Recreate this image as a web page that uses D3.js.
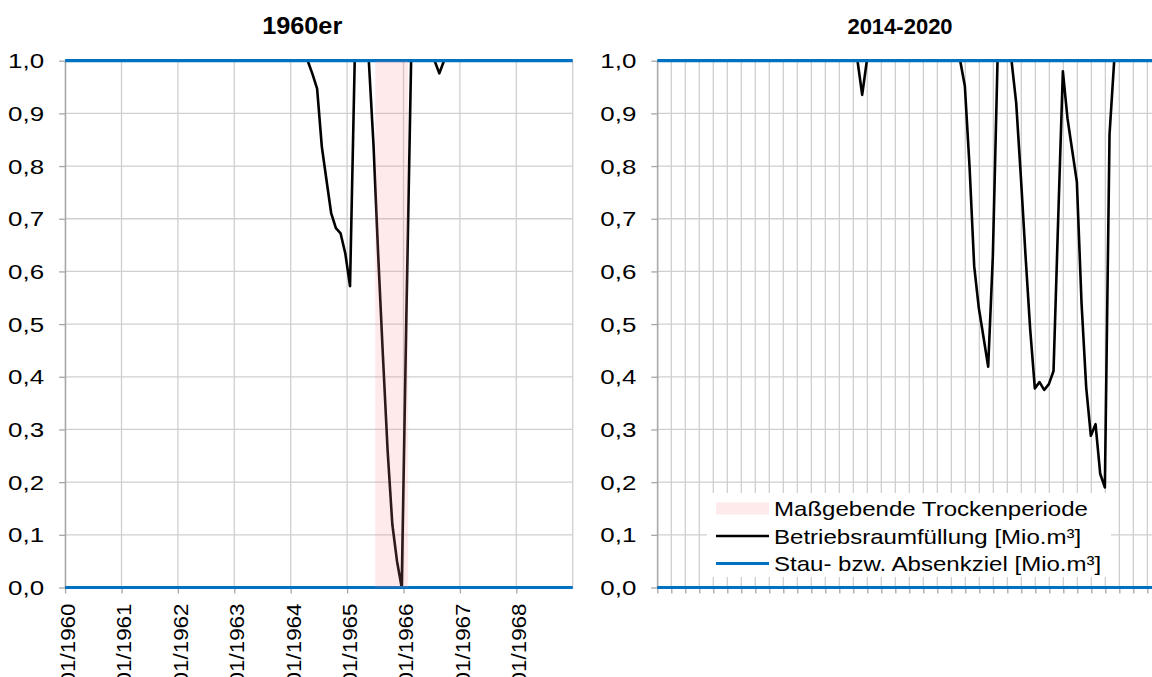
<!DOCTYPE html>
<html><head><meta charset="utf-8">
<script src="https://cdn.jsdelivr.net/npm/d3@7"></script>
<style>
body{margin:0;background:#fff}
svg{display:block}
text{font-family:"Liberation Sans",Arial,sans-serif;fill:#000}
</style>
</head><body>
<svg id="c" width="1152" height="677"></svg>
<script>
// ---------------- data ----------------
const leftTitle = "1960er";
const rightTitle = "2014-2020";
const leftTickLabels = ["01/1960","01/1961","01/1962","01/1963","01/1964","01/1965","01/1966","01/1967","01/1968"];
// monthly Betriebsraumfüllung, Jan 1960 .. Dec 1968
const leftValues = [
  1,1,1,1,1,1,1,1,1,1,1,1,                              // 1960
  1,1,1,1,1,1,1,1,1,1,1,1,                              // 1961
  1,1,1,1,1,1,1,1,1,1,1,1,                              // 1962
  1,1,1,1,1,1,1,1,1,1,1,1,                              // 1963
  1,1,1,1,0.975,0.947,0.837,0.773,0.71,0.682,0.672,0.634, // 1964
  0.572,1,1,1,1,0.84,0.63,0.44,0.26,0.12,0.05,0,        // 1965
  0.52,1,1,1,1,1,1,0.976,1,1,1,1,                       // 1966
  1,1,1,1,1,1,1,1,1,1,1,1,                              // 1967
  1,1,1,1,1,1,1,1,1,1,1,1                               // 1968
];
// monthly Betriebsraumfüllung, right panel (from axis start)
const rightValues = [
  1,1,1,1,1,1,1,1,1,1,1,1,
  1,1,1,1,1,1,1,1,1,1,1,1,
  1,1,1,1,1,1,1,1,1,1,1,1,
  1,1,1,1,1,1,1,0.935,1,1,1,1,
  1,1,1,1,1,1,1,1,1,1,1,1,
  1,1,1,1,1,0.952,0.80,0.61,0.53,0.475,0.419,0.63,
  1,1,1,1,0.92,0.78,0.63,0.49,0.378,0.39,0.375,0.386,
  0.411,0.70,0.98,0.89,0.83,0.77,0.54,0.38,0.288,0.31,0.216,0.19,
  0.86,1,1,1,1,1,1,1,1,1
];
const targetLevels = [1.0, 0.0];           // Stau- bzw. Absenkziel
const shadeMonths = [66, 73];              // 07/1965 .. 02/1966 (months since 01/1960)
const yTicks = [0,0.1,0.2,0.3,0.4,0.5,0.6,0.7,0.8,0.9,1.0];
const legendLabels = ["Maßgebende Trockenperiode","Betriebsraumfüllung [Mio.m³]","Stau- bzw. Absenkziel [Mio.m³]"];

// ---------------- style ----------------
const BLUE = "#0070c0", GRID = "#cfcfcf", AXIS = "#a6a6a6";
const SHADE = "rgb(250,140,140)", SHADE_OP = 0.18;
const fmt = d3.formatLocale({decimal:",",thousands:".",grouping:[3],currency:["","€"]}).format(".1f");

const svg = d3.select("#c");
const y = d3.scaleLinear().domain([0,1]).range([587.5, 60.7]);

function panel(x, xMin, gridVals, gxRight, tickVals, tickFmt, values, offset, title, titleX, titleStretch) {
  const g = svg.append("g");
  // grid
  g.selectAll(".vg").data(gridVals).join("line")
    .attr("x1", d=>x(d)).attr("x2", d=>x(d)).attr("y1", y(1)).attr("y2", y(0))
    .attr("stroke", GRID).attr("stroke-width", 1.3);
  g.selectAll(".hg").data(yTicks).join("line")
    .attr("x1", x(xMin)).attr("x2", gxRight).attr("y1", d=>y(d)).attr("y2", d=>y(d))
    .attr("stroke", GRID).attr("stroke-width", 1.3);
  // y axis
  const ya = g.append("g").attr("transform", `translate(${x(xMin)},0)`)
    .call(d3.axisLeft(y).tickValues(yTicks).tickFormat(fmt).tickSize(6).tickSizeOuter(0));
  ya.select(".domain").attr("stroke", AXIS).attr("stroke-width", 1.3);
  ya.selectAll(".tick line").attr("stroke", AXIS).attr("stroke-width", 1.3);
  ya.selectAll("text").style("font-size","19.5px").attr("fill","#000").attr("font-family", null)
    .attr("x",0).attr("dy","0.36em").attr("transform","translate(-21,0) scale(1.33,1)");
  // x axis
  const xa = g.append("g").attr("transform", `translate(0,${y(0)})`)
    .call(d3.axisBottom(x).tickValues(tickVals).tickFormat(tickFmt).tickSize(6).tickSizeOuter(0));
  xa.select(".domain").attr("stroke", AXIS);
  xa.selectAll(".tick line").attr("stroke", AXIS).attr("stroke-width", 1.3);
  xa.selectAll("text").style("font-size","20px").attr("fill","#000").attr("font-family", null)
    .attr("text-anchor","end").attr("y",0).attr("dy",0)
    .attr("transform","translate(9.4,16) rotate(-90) scale(1.12,1)");
  // data line
  const line = d3.line().x((d,i)=>x(i+offset)).y(d=>y(d));
  g.append("path").datum(values).attr("d", line)
    .attr("fill","none").attr("stroke","#000").attr("stroke-width",2.6).attr("stroke-linejoin","round");
  // targets
  g.selectAll(".tl").data(targetLevels).join("line")
    .attr("x1", x(xMin)).attr("x2", gxRight).attr("y1", d=>y(d)).attr("y2", d=>y(d))
    .attr("stroke", BLUE).attr("stroke-width", 3.2);
  // title
  svg.append("text").attr("text-anchor","middle")
    .attr("transform", `translate(${titleX},34) scale(${titleStretch},1)`)
    .style("font-size", titleStretch > 1 ? "23px" : "22px").style("font-weight","bold").text(title);
  return g;
}

// left panel
const xL = d3.scaleLinear().domain([0,108]).range([65.1,572.7]);
const gL = panel(xL, 0, d3.range(0,109,12), xL(108), d3.range(0,108,12),
  (d,i)=>leftTickLabels[i], leftValues, 0.62, leftTitle, 302.2, 1.1);
gL.append("rect").attr("x", xL(shadeMonths[0])).attr("width", xL(shadeMonths[1])-xL(shadeMonths[0]))
  .attr("y", y(1)).attr("height", y(0)-y(1)).attr("fill", SHADE).attr("fill-opacity", SHADE_OP);

// right panel
const xR = d3.scaleLinear().domain([0,107]).range([657.3, 657.3+107*4.667]);
const gR = panel(xR, 0, d3.range(0,106,3), 1152, d3.range(0,106,3), ()=> "", rightValues, 0.9, rightTitle, 900, 1);

// legend
const lg = svg.append("g");
lg.append("rect").attr("x",707).attr("y",493).attr("width",404).attr("height",84).attr("fill","#fff");
const items = lg.selectAll(".li").data(legendLabels).join("g")
  .attr("transform",(d,i)=>`translate(716,${508.5+i*27.5})`);
items.each(function(d,i){
  const it = d3.select(this);
  if(i===0) it.append("rect").attr("x",0).attr("y",-6).attr("width",53).attr("height",12)
      .attr("fill",SHADE).attr("fill-opacity",SHADE_OP);
  else it.append("line").attr("x1",0).attr("x2",53).attr("y1",0).attr("y2",0)
      .attr("stroke", i===1?"#000":BLUE).attr("stroke-width", i===1?2.6:3.2);
  it.append("text").attr("transform","translate(58,7.5) scale(1.145,1)").style("font-size","21px").text(d);
});
</script>
</body></html>
